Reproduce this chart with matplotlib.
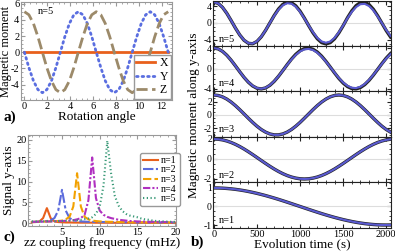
import matplotlib
matplotlib.use('Agg')
import matplotlib.pyplot as plt
from matplotlib.ticker import MultipleLocator

## data: panel a (rotation angle sweep)
angle = [0, 0.39, 0.79, 1.18, 1.57, 1.96, 2.36, 2.75, 3.14, 3.53, 3.93, 4.32, 4.71, 5.11, 5.50, 5.89,
         6.28, 6.68, 7.07, 7.46, 7.85, 8.25, 8.64, 9.03, 9.42, 9.82, 10.21, 10.60, 11.00, 11.39, 11.78,
         12.17, 12.57]
mom_x = [0] * 33
mom_y = [0, -1.91, -3.54, -4.62, -5, -4.62, -3.54, -1.91, 0, 1.91, 3.54, 4.62, 5, 4.62, 3.54, 1.91,
         0, -1.91, -3.54, -4.62, -5, -4.62, -3.54, -1.91, 0, 1.91, 3.54, 4.62, 5, 4.62, 3.54, 1.91, 0]
mom_z = [5, 4.62, 3.54, 1.91, 0, -1.91, -3.54, -4.62, -5, -4.62, -3.54, -1.91, 0, 1.91, 3.54, 4.62,
         5, 4.62, 3.54, 1.91, 0, -1.91, -3.54, -4.62, -5, -4.62, -3.54, -1.91, 0, 1.91, 3.54, 4.62, 5]

## data: panel c (signal vs zz coupling)
freq = [1, 1.5, 2, 2.5, 3, 3.5, 4, 4.5, 5, 5.5, 6, 6.5, 7, 7.5, 8, 8.5, 9, 9.5, 10, 10.5, 11, 11.5,
        12, 12.5, 13, 13.5, 14, 14.5, 15, 15.5, 16, 16.5, 17, 17.5, 18, 18.5, 19, 19.5, 20]
sig_n1 = [0.2, 0.25, 0.35, 1.2, 3.6, 1.2, 0.4, 0.25, 0.2, 0.15, 0.15, 0.12, 0.12, 0.1, 0.1, 0.1,
          0.1, 0.08, 0.08, 0.08, 0.08, 0.07, 0.07, 0.07, 0.06, 0.06, 0.06, 0.06, 0.05, 0.05, 0.05,
          0.05, 0.05, 0.05, 0.05, 0.05, 0.05, 0.05, 0.05]
sig_n2 = [0.3, 0.3, 0.35, 0.4, 0.5, 0.7, 1.2, 3.0, 8.0, 3.0, 1.2, 0.7, 0.5, 0.4, 0.35, 0.3, 0.3,
          0.28, 0.26, 0.25, 0.24, 0.22, 0.21, 0.2, 0.2, 0.19, 0.18, 0.18, 0.17, 0.17, 0.16, 0.16,
          0.16, 0.15, 0.15, 0.15, 0.15, 0.15, 0.15]
sig_n3 = [0.3, 0.3, 0.32, 0.35, 0.38, 0.4, 0.45, 0.5, 0.6, 0.9, 1.5, 4.0, 12.0, 4.0, 1.5, 0.9, 0.6,
          0.5, 0.4, 0.35, 0.32, 0.3, 0.28, 0.26, 0.25, 0.24, 0.22, 0.21, 0.2, 0.2, 0.19, 0.18, 0.18,
          0.17, 0.17, 0.16, 0.16, 0.15, 0.15]
sig_n4 = [0.3, 0.3, 0.32, 0.35, 0.38, 0.4, 0.42, 0.45, 0.5, 0.55, 0.6, 0.7, 0.9, 1.2, 2.0, 5.5,
          15.8, 6.0, 3.0, 2.0, 1.5, 1.2, 1.0, 0.8, 0.7, 0.6, 0.5, 0.45, 0.4, 0.38, 0.35, 0.32, 0.3,
          0.28, 0.26, 0.25, 0.24, 0.22, 0.2]
sig_n5 = [0.4, 0.4, 0.4, 0.4, 0.45, 0.45, 0.45, 0.5, 0.5, 0.55, 0.6, 0.65, 0.7, 0.8, 0.95, 1.1,
          1.4, 2.2, 4.0, 9.0, 19.8, 12.0, 6.5, 4.2, 2.9, 2.2, 1.8, 1.6, 1.4, 1.1, 0.9, 0.8, 0.6, 0.5,
          0.45, 0.4, 0.35, 0.3, 0.3]

## data: panel b (evolution in time), theory (black) and measured (blue)
time = [0, 50, 100, 150, 200, 250, 300, 350, 400, 450, 500, 550, 600, 650, 700, 750, 800, 850, 900,
        950, 1000, 1050, 1100, 1150, 1200, 1250, 1300, 1350, 1400, 1450, 1500, 1550, 1600, 1650,
        1700, 1750, 1800, 1850, 1900, 1950, 2000, 2050]
evo_n1 = [1.0, 0.997, 0.988, 0.972, 0.951, 0.924, 0.891, 0.853, 0.809, 0.76, 0.707, 0.649, 0.588,
          0.522, 0.454, 0.383, 0.309, 0.233, 0.156, 0.078, 0.0, -0.078, -0.156, -0.233, -0.309,
          -0.383, -0.454, -0.522, -0.588, -0.649, -0.707, -0.76, -0.809, -0.853, -0.891, -0.924,
          -0.951, -0.972, -0.988, -0.997, -1.0, -0.997]
evo_n2 = [2.0, 1.978, 1.911, 1.802, 1.653, 1.466, 1.247, 1.0, 0.73, 0.445, 0.149, -0.15, -0.445,
          -0.731, -1.0, -1.247, -1.466, -1.653, -1.802, -1.911, -1.978, -2.0, -1.978, -1.911,
          -1.802, -1.653, -1.466, -1.247, -1.0, -0.731, -0.445, -0.15, 0.149, 0.445, 0.73, 1.0,
          1.247, 1.466, 1.653, 1.802, 1.911, 1.978]
evo_n3 = [3.0, 2.93, 2.723, 2.388, 1.942, 1.406, 0.803, 0.163, -0.486, -1.11, -1.682, -2.178,
          -2.569, -2.843, -2.982, -2.982, -2.843, -2.571, -2.178, -1.683, -1.111, -0.486, 0.162,
          0.803, 1.406, 1.942, 2.388, 2.723, 2.93, 3.0, 2.93, 2.723, 2.388, 1.942, 1.406, 0.803,
          0.163, -0.486, -1.11, -1.682, -2.178, -2.569]
evo_n4 = [4.0, 3.835, 3.354, 2.596, 1.625, 0.518, -0.631, -1.73, -2.68, -3.413, -3.866, -3.998,
          -3.801, -3.29, -2.506, -1.518, -0.403, 0.745, 1.832, 2.767, 3.474, 3.894, 3.993, 3.763,
          3.222, 2.414, 1.407, 0.288, -0.857, -1.934, -2.846, -3.529, -3.919, -3.985, -3.722,
          -3.153, -2.323, -1.3, -0.173, 0.969, 2.033, 2.928]
evo_n5 = [5.0, 4.675, 3.741, 2.32, 0.598, -1.203, -2.849, -4.124, -4.858, -4.962, -4.421, -3.304,
          -1.754, 0.018, 1.787, 3.332, 4.438, 4.966, 4.849, 4.1, 2.816, 1.168, -0.634, -2.35,
          -3.76, -4.687, -5.0, -4.691, -3.772, -2.363, -0.645, 1.237, 2.877, 4.141, 4.866, 4.957,
          4.404, 3.277, 1.72, -0.054, -1.825, -3.361]
meas_n4 = [4.0, 3.83, 3.35, 2.59, 1.62, 0.52, -0.63, -1.72, -2.66, -3.38, -3.83, -3.96, -3.77,
           -3.26, -2.48, -1.5, -0.4, 0.72, 1.76, 2.66, 3.34, 3.74, 3.83, 3.61, 3.09, 2.32, 1.35,
           0.28, -0.82, -1.86, -2.73, -3.39, -3.76, -3.83, -3.57, -3.03, -2.23, -1.25, -0.17, 0.93,
           1.95, 2.81]
meas_n5 = [5.0, 4.67, 3.74, 2.32, 0.6, -1.2, -2.84, -4.1, -4.82, -4.92, -4.38, -3.27, -1.74, 0.02,
           1.72, 3.18, 4.22, 4.72, 4.61, 3.9, 2.68, 1.11, -0.6, -2.2, -3.55, -4.42, -4.72, -4.43,
           -3.56, -2.23, -0.61, 1.14, 2.65, 3.81, 4.48, 4.56, 4.05, 3.02, 1.58, -0.05, -1.68, -3.09]

W, H = 395, 252
plt.rcParams['font.family'] = ['Liberation Serif', 'DejaVu Serif']
plt.rcParams['font.size'] = 7.5
plt.rcParams['axes.unicode_minus'] = False


def rect(x0, y0, x1, y1):
	return [x0 / W, 1 - y1 / H, (x1 - x0) / W, (y1 - y0) / H]


def ftext(x, y, s, **kw):
	fig.text(x / W, 1 - y / H, s, **kw)


def frame(ax, color):
	for sp in ax.spines.values():
		sp.set_color(color)
		sp.set_linewidth(0.8)
	ax.tick_params(which='both', direction='in', top=True, right=True, color=color,
				   labelsize=7.5, pad=1.2)
	ax.tick_params(which='major', length=3)
	ax.tick_params(which='minor', length=1.5)


fig = plt.figure(figsize=(W / 100, H / 100), dpi=100)

## panel a
ax_a = fig.add_axes(rect(21, 2, 172, 100))
ax_a.plot(angle, mom_x, color='#e8601c', lw=2, label='X')
ax_a.plot(angle, mom_y, color='#5a6ee0', lw=2, ls=(0, (0.6, 1.4)), dash_capstyle='round', label='Y')
ax_a.plot(angle, mom_z, color='#9c8a6a', lw=2, ls=(0, (4, 1.6)), label='Z')
ax_a.set_xlim(-0.3, 12.9)
ax_a.set_ylim(-5.9, 6.2)
ax_a.xaxis.set_major_locator(MultipleLocator(2))
ax_a.xaxis.set_minor_locator(MultipleLocator(0.5))
ax_a.yaxis.set_major_locator(MultipleLocator(2))
ax_a.yaxis.set_minor_locator(MultipleLocator(0.5))
frame(ax_a, '#999999')
ax_a.text(0.11, 0.88, 'n=5', transform=ax_a.transAxes, fontsize=7.5)
ax_a.legend(loc='lower right', fontsize=8.5, handlelength=1.6, handletextpad=0.4,
			borderpad=0.2, labelspacing=0.15, borderaxespad=0.1, fancybox=False,
			edgecolor='#999999', framealpha=1)
ax_a.set_xlabel('Rotation angle', fontsize=9.5, labelpad=0)
ftext(6, 51, 'Magnetic moment', fontsize=9, rotation=90, ha='center', va='center')
ftext(3, 117, 'a)', fontsize=11, fontweight='bold', va='center')

## panel c
ax_c = fig.add_axes(rect(28, 135, 176, 226))
ax_c.plot(freq, sig_n1, color='#e8601c', lw=1.5, label='n=1')
ax_c.plot(freq, sig_n2, color='#5b6bdc', lw=1.5, ls=(0, (5, 1.2, 1.5, 1.2)), label='n=2')
ax_c.plot(freq, sig_n3, color='#f2a100', lw=1.5, ls=(0, (4, 1.5)), label='n=3')
ax_c.plot(freq, sig_n4, color='#b030c0', lw=1.5, ls=(0, (3.5, 1, 1, 1)), label='n=4')
ax_c.plot(freq, sig_n5, color='#3a9a78', lw=1.5, ls=(0, (0.6, 1.2)), label='n=5')
ax_c.set_xlim(0.5, 20.1)
ax_c.set_ylim(-0.7, 21.2)
ax_c.xaxis.set_major_locator(MultipleLocator(5))
ax_c.xaxis.set_minor_locator(MultipleLocator(1))
ax_c.yaxis.set_major_locator(MultipleLocator(5))
ax_c.yaxis.set_minor_locator(MultipleLocator(1))
frame(ax_c, '#999999')
ax_c.legend(loc='upper left', bbox_to_anchor=(135 / W, 1 - 148 / H), bbox_transform=fig.transFigure,
			fontsize=7.2, handlelength=1.5, handletextpad=0.3, borderpad=0.3, labelspacing=0.05,
			fancybox=True, edgecolor='#999999', framealpha=1)
ax_c.set_xlabel('zz coupling frequency (mHz)', fontsize=9.5, labelpad=0)
ax_c.set_ylabel('Signal y-axis', fontsize=9.5, labelpad=1)
ftext(3, 237, 'c)', fontsize=11, fontweight='bold', va='center')

## panel b
bounds = [1, 46, 91, 137, 182, 228]
series = [(5, evo_n5, meas_n5, (-5.5, 5.25), 4),
		  (4, evo_n4, meas_n4, (-4.4, 4.4), 4),
		  (3, evo_n3, evo_n3, (-3.3, 3.6), 2),
		  (2, evo_n2, evo_n2, (-2.3, 2.2), 2),
		  (1, evo_n1, evo_n1, (-1.16, 1.32), 1)]
for i, (n, theory, meas, ylim, step) in enumerate(series):
	ax = fig.add_axes(rect(213, bounds[i], 391, bounds[i + 1]))
	ax.axhline(0, color='#dddddd', lw=0.8)
	ax.plot(time, theory, color='#222222', lw=2.4)
	ax.plot(time, meas, color='#5a5ad0', lw=1.5)
	ax.set_xlim(-10, 2055)
	ax.set_ylim(*ylim)
	ax.xaxis.set_major_locator(MultipleLocator(500))
	ax.xaxis.set_minor_locator(MultipleLocator(100))
	ax.yaxis.set_major_locator(MultipleLocator(step))
	ax.yaxis.set_minor_locator(MultipleLocator(step / 4))
	frame(ax, '#222222')
	ax.tick_params(axis='y', pad=0.8, labelsize=7)
	ax.text(0.03, 0.1, 'n=%d' % n, transform=ax.transAxes, fontsize=7.5)
	if i < 4:
		ax.tick_params(labelbottom=False)
	else:
		ax.set_xlabel('Evolution time (s)', fontsize=9.5, labelpad=0)

ftext(194, 115, 'Magnetic moment along y-axis', fontsize=9.5, rotation=90, ha='center', va='center')
ftext(191, 242, 'b)', fontsize=11, fontweight='bold', va='center')

fig.savefig('out.png', dpi=100)
